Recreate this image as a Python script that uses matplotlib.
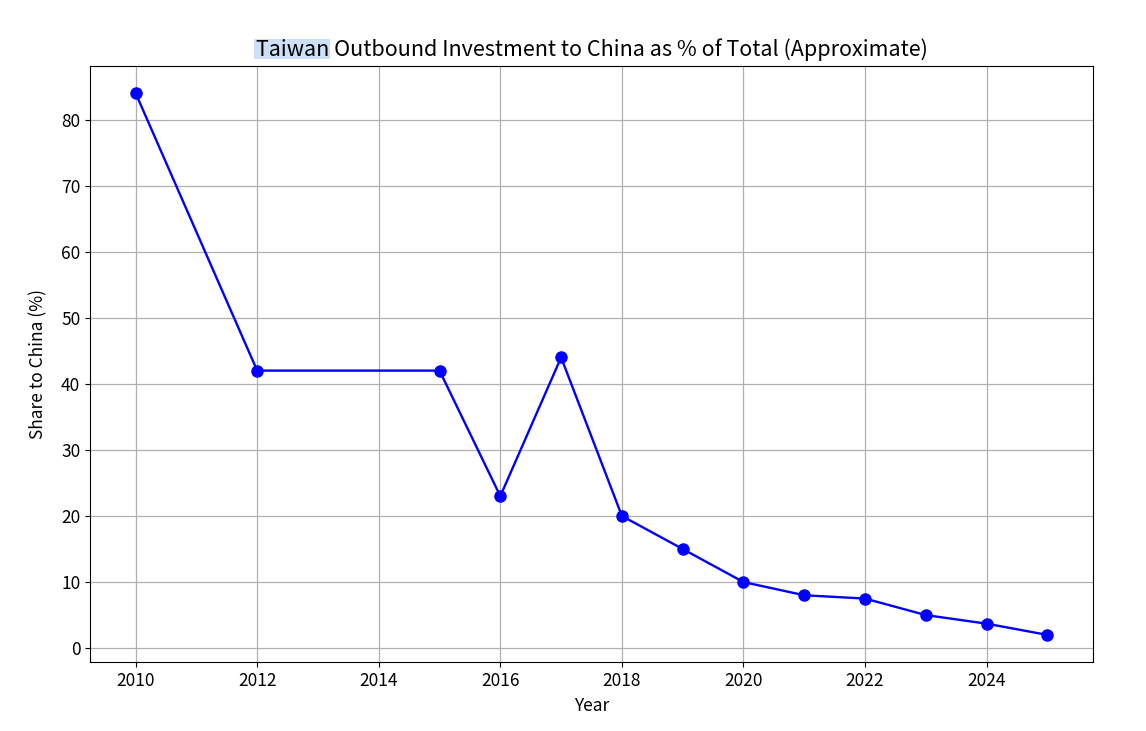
import matplotlib
matplotlib.use("Agg")
import matplotlib.pyplot as plt
from matplotlib.patches import Rectangle

years = [2010, 2012, 2015, 2016, 2017, 2018, 2019, 2020, 2021, 2022, 2023, 2024, 2025]
share = [84, 42, 42, 23, 44, 20, 15, 10, 8, 7.5, 5, 3.7, 2]
xticks = [2010, 2012, 2014, 2016, 2018, 2020, 2022, 2024]
yticks = [0, 10, 20, 30, 40, 50, 60, 70, 80]

plt.rcParams['font.family'] = ['Noto Sans CJK JP', 'DejaVu Sans']

fig = plt.figure(figsize=(11.46, 7.31), dpi=100)
ax = fig.add_axes([90/1146, 1-662/731, (1093-90)/1146, (662-66)/731])
ax.plot(years, share, color='blue', marker='o', markersize=8, linewidth=1.7)
ax.set_xticks(xticks)
ax.set_yticks(yticks)
ax.grid(True, color='#b0b0b0', linewidth=0.9)
ax.tick_params(labelsize=12.5)
ax.set_xlabel('Year', fontsize=12.5, labelpad=5)
ax.set_ylabel('Share to China (%)', fontsize=12.5, labelpad=10)
title = ax.set_title('Taiwan Outbound Investment to China as % of Total (Approximate)', fontsize=15.5, pad=7)

fig.canvas.draw()
r = fig.canvas.get_renderer()
bb = title.get_window_extent(r)
tmp = fig.text(0, 0, 'Taiwan', fontsize=15.5)
w = tmp.get_window_extent(r).width
tmp.remove()
fig.patches.append(Rectangle((bb.x0 - 2, bb.y0 + 2), w + 3, bb.height - 2,
                             transform=None, facecolor='#cce0f7', edgecolor='none', zorder=-1))

fig.savefig('out.png', dpi=100)
